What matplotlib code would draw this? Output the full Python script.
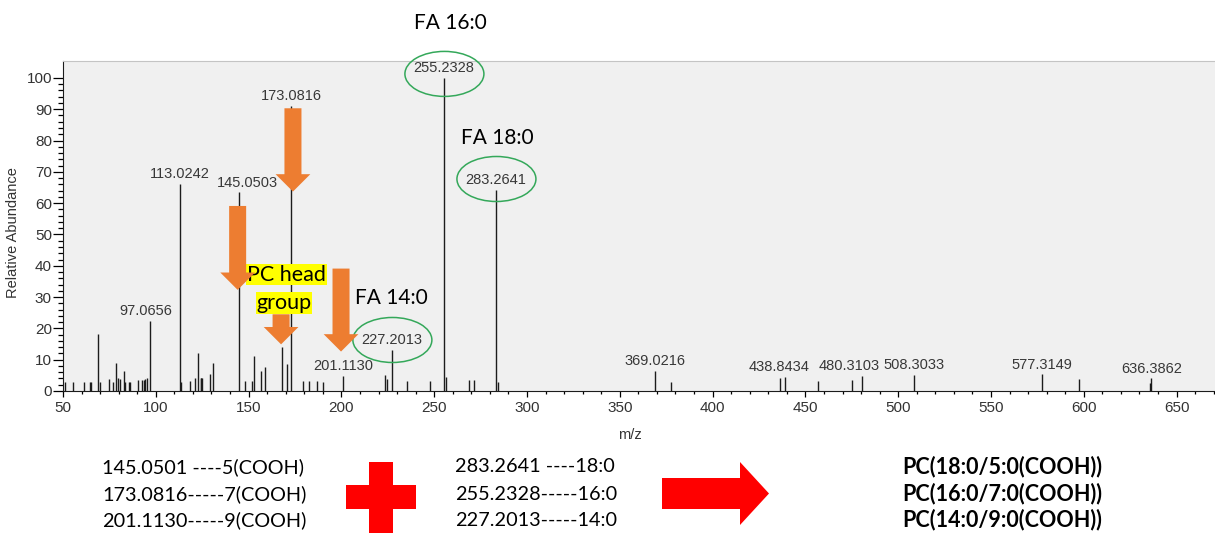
import matplotlib.pyplot as plt
import matplotlib.transforms as mtransforms
from matplotlib.patches import Ellipse, Rectangle, Polygon

# labelled fragment ions (m/z as printed, relative abundance)
label_mz = ['97.0656', '113.0242', '145.0503', '173.0816', '201.1130', '227.2013',
            '255.2328', '283.2641', '369.0216', '438.8434', '480.3103', '508.3033',
            '577.3149', '636.3862']
label_int = [22.3, 66.1, 63.4, 91.0, 4.8, 13.1, 100.0, 64.2, 6.4, 4.6, 4.8, 5.1, 5.3, 4.0]
label_dx = [-3, 0, 6, 0, 0, 0, 0, 0, 0, -4, -9, 0, 0, 0]

# smaller unlabelled peaks
minor_mz = [51.1, 55.4, 61.5, 64.6, 65.2, 68.7, 69.9, 75.0, 77.1, 78.6, 79.8, 80.7,
            82.7, 83.6, 85.5, 86.1, 90.2, 92.6, 93.5, 94.4, 95.1, 113.6, 118.6, 121.0,
            122.9, 124.1, 124.6, 125.0, 129.2, 130.8, 147.9, 151.7, 152.7, 156.5, 158.7,
            168.0, 170.7, 179.4, 182.6, 186.9, 190.2, 223.7, 224.4, 235.2, 247.5, 256.4,
            268.9, 271.5, 284.3, 377.5, 436.2, 456.9, 475.0, 597.5, 635.5]
minor_int = [2.8, 2.8, 3.0, 3.0, 3.0, 18.3, 2.8, 3.8, 2.8, 8.8, 4.3, 3.8,
             6.4, 2.8, 2.9, 2.9, 3.4, 3.4, 3.4, 3.8, 4.0, 2.8, 3.2, 4.0,
             12.0, 4.0, 4.0, 4.0, 5.3, 8.8, 3.2, 3.2, 11.2, 6.5, 7.8,
             14.0, 8.5, 3.3, 3.3, 3.3, 2.9, 5.0, 3.7, 3.3, 3.3, 4.4,
             3.5, 3.5, 3.0, 3.0, 4.2, 3.3, 3.5, 3.8, 2.5]

# fatty acid fragments circled in the spectrum
fa_names = ['FA 14:0', 'FA 16:0', 'FA 18:0']
fa_mz = ['227.2013', '255.2328', '283.2641']
fa_text_pos = [(227.1, 29.6), (258.6, 117.5), (284.2, 80.9)]
fa_ring_lift = [10, 4, 11]

# orange arrows: (m/z, start, tip)
arrows = [(173.9, 90.3, 63.7), (144.1, 59.1, 32.3), (167.5, 24.5, 14.9), (199.8, 39.1, 12.6)]

left_lines = ['145.0501 ----5(COOH)', '173.0816-----7(COOH)', '201.1130-----9(COOH)']
mid_lines = ['283.2641 ----18:0', '255.2328-----16:0', '227.2013-----14:0']
right_lines = ['PC(18:0/5:0(COOH))', 'PC(16:0/7:0(COOH))', 'PC(14:0/9:0(COOH))']

W, H = 1215, 533
fig = plt.figure(figsize=(W / 100, H / 100), dpi=100)
fig.patch.set_facecolor('white')
ax = fig.add_axes([63 / W, 142 / H, 1152 / W, 330 / H])
ax.set_facecolor('#f0f0f0')

arial = 'Liberation Sans'
cal = 'Lato'
orange = '#ed7d31'
green = '#34a85a'
ink = '#1c1c1c'

ax.vlines(minor_mz, 0, minor_int, color=ink, lw=1.0, zorder=2)
pk = [float(m) for m in label_mz]
ax.vlines(pk, 0, label_int, color=ink, lw=1.0, zorder=2)
for m, h, dx in zip(label_mz, label_int, label_dx):
    ax.annotate(m, (float(m), h), xytext=(dx, 7), textcoords='offset points',
                ha='center', va='center', fontsize=10.5, family=arial,
                color='#383838', zorder=5, annotation_clip=False)

ax.set_xlim(50, 670.7)
ax.set_ylim(0, 105.4)
ax.set_xticks(range(50, 651, 50))
ax.set_xticks(range(50, 671, 10), minor=True)
ax.set_yticks(range(0, 101, 10))
ax.set_yticks(range(0, 101, 2), minor=True)
ax.tick_params(axis='x', which='major', length=4, width=0.9, pad=3, direction='out')
ax.tick_params(axis='x', which='minor', length=2.5, width=0.9, direction='out')
ax.tick_params(axis='y', which='major', length=7, width=0.9, pad=1)
ax.tick_params(axis='y', which='minor', length=3.5, width=0.9)
for lab in ax.get_xticklabels() + ax.get_yticklabels():
    lab.set_family(arial)
    lab.set_fontsize(11)
    lab.set_color('#333333')

ax.spines['right'].set_visible(False)
ax.spines['top'].set_color('#c4c4c4')
ax.spines['left'].set_color(ink)
ax.spines['bottom'].set_color(ink)

ax.set_ylabel('Relative Abundance', family=arial, fontsize=10.5, color='#333333')
ax.yaxis.set_label_coords(-43 / 1152, 0.479)
ax.set_xlabel('m/z', family=arial, fontsize=10.5, color='#333333')
ax.xaxis.set_label_coords(0.492, -0.112)

# green rings round the fatty acid peaks
for name, m, (tx, ty), lift in zip(fa_names, fa_mz, fa_text_pos, fa_ring_lift):
    h = label_int[label_mz.index(m)]
    trans = fig.dpi_scale_trans + mtransforms.ScaledTranslation(float(m), h, ax.transData)
    ring = Ellipse((0.005, lift / 100), 0.79, 0.45, transform=trans, fill=False,
                   ec=green, lw=1.1, clip_on=False, zorder=6)
    ax.add_artist(ring)
    ax.text(tx, ty, name, ha='center', va='center', family=cal, fontsize=15,
            color='black', clip_on=False, zorder=7)

# PC head group tag
ax.text(170.4, 37.1, 'PC head', ha='center', va='center', family=cal, fontsize=15.5,
        color='black', zorder=7, bbox=dict(fc='#ffff00', ec='none', pad=0.5))
ax.text(169.0, 28.1, 'group', ha='center', va='center', family=cal, fontsize=15.5,
        color='black', zorder=7, bbox=dict(fc='#ffff00', ec='none', pad=0.5))

for x, y0, y1 in arrows:
    z = 6 if y0 < 30 else 8
    ax.annotate('', xy=(x, y1), xytext=(x, y0),
                arrowprops=dict(arrowstyle='simple,head_length=1.0,head_width=2.0,tail_width=0.98',
                                mutation_scale=12.5, fc=orange, ec='none',
                                shrinkA=0, shrinkB=0), zorder=z)


def fx(x):
    return x / W


def fy(y):
    return 1 - y / H


row_y = [467, 494, 520]
for i, y in enumerate(row_y):
    fig.text(fx(102), fy(y), left_lines[i], ha='left', va='center', family=cal, fontsize=14.3)
    fig.text(fx(455), fy(y), mid_lines[i], ha='left', va='center', family=cal, fontsize=14.3)
    fig.text(fx(1002), fy(y), right_lines[i], ha='center', va='center', family=cal,
             fontsize=15.5, weight='bold')

# red plus and arrow between the columns
red = '#ff0000'
fig.patches.append(Rectangle((fx(346), fy(509)), (416 - 346) / W, 24 / H,
                             transform=fig.transFigure, fc=red, ec='none'))
fig.patches.append(Rectangle((fx(369), fy(533)), 24 / W, (533 - 462) / H,
                             transform=fig.transFigure, fc=red, ec='none'))
fig.patches.append(Polygon([(fx(662), fy(478)), (fx(740), fy(478)), (fx(740), fy(462)),
                            (fx(769), fy(493.5)), (fx(740), fy(525)), (fx(740), fy(509)),
                            (fx(662), fy(509))],
                           closed=True, transform=fig.transFigure, fc=red, ec='none'))

fig.savefig('out.png', dpi=100)
